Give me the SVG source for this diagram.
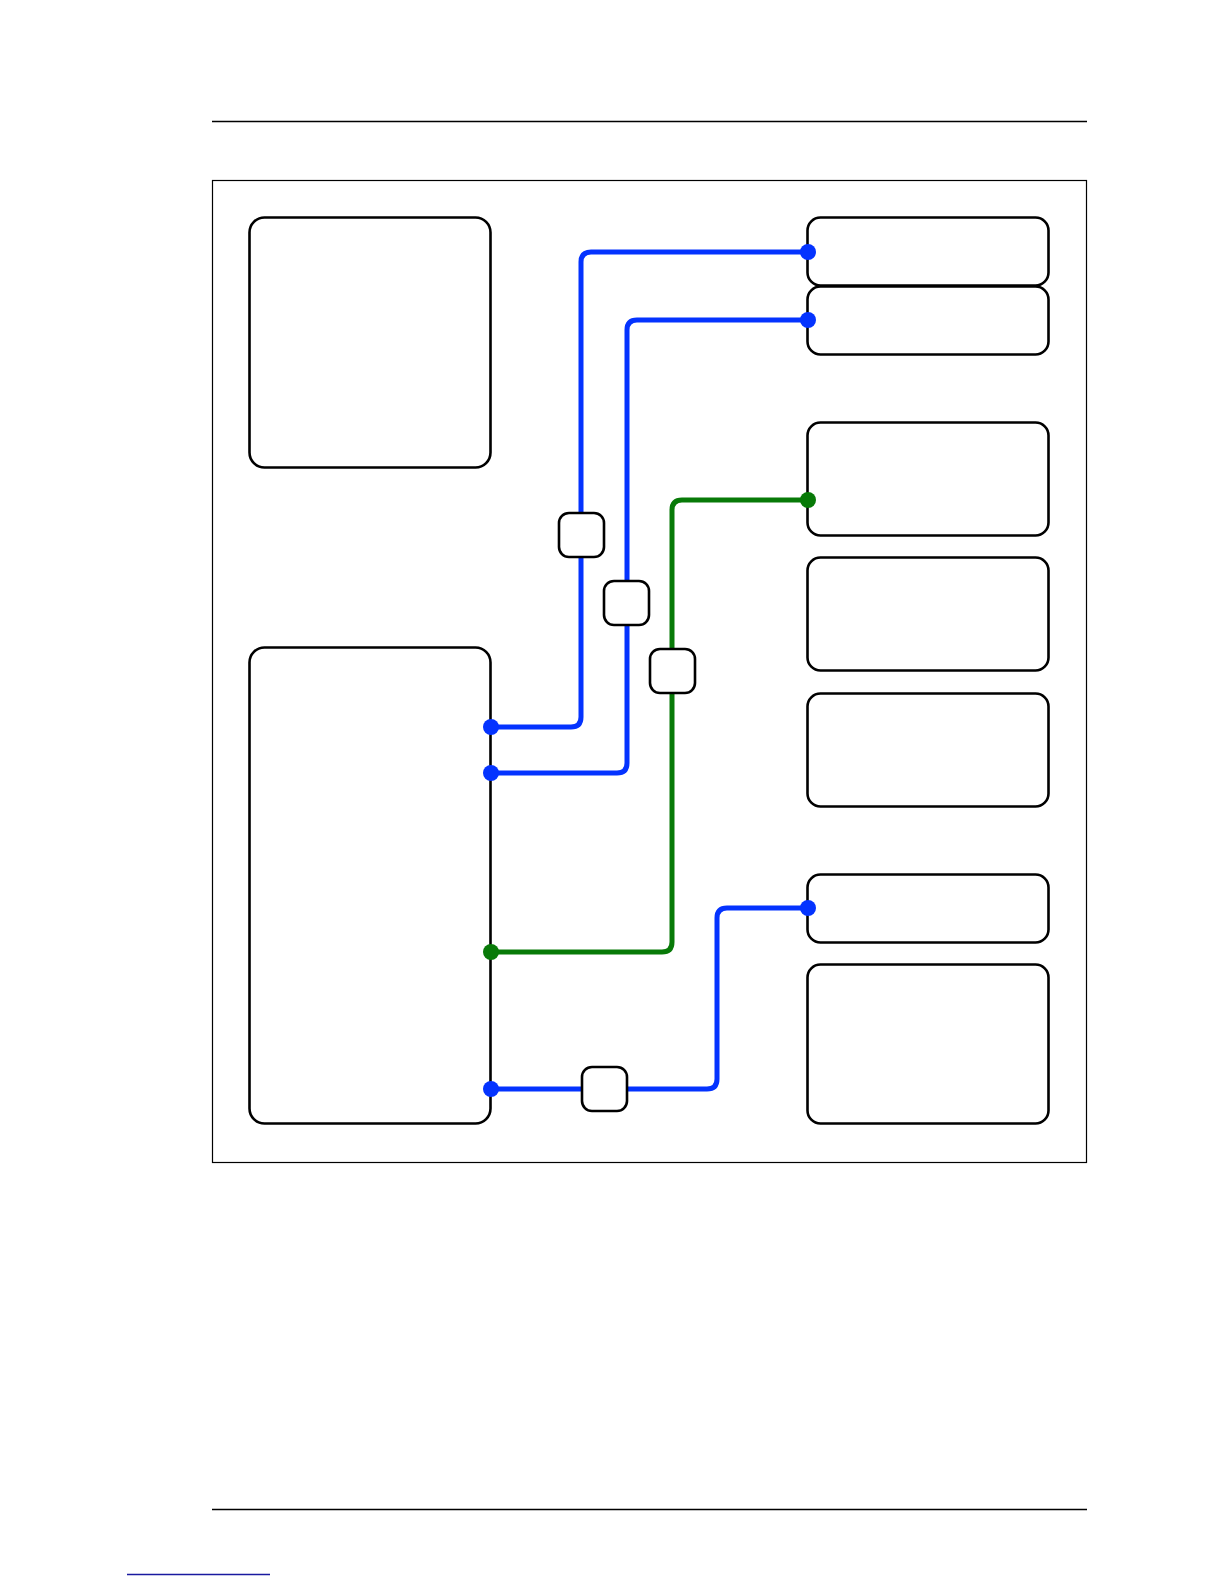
<svg xmlns="http://www.w3.org/2000/svg" width="1224" height="1584" viewBox="0 0 1224 1584">
<style>
.box{fill:#fff;stroke:#000;stroke-width:2.6}
.sm{fill:#fff;stroke:#000;stroke-width:2.6}
.blue{fill:none;stroke:#0433ff;stroke-width:5;stroke-linejoin:round}
.green{fill:none;stroke:#087a08;stroke-width:5;stroke-linejoin:round}
.dotb{fill:#0433ff}
.dotg{fill:#087a08}
</style>
<rect width="1224" height="1584" fill="#fff"/>
<line x1="212" y1="121.5" x2="1087" y2="121.5" stroke="#000" stroke-width="1.5"/>
<line x1="212" y1="1509.5" x2="1087" y2="1509.5" stroke="#000" stroke-width="1.5"/>
<line x1="127" y1="1574.5" x2="270" y2="1574.5" stroke="#1a1aa0" stroke-width="1.5"/>
<rect x="212.5" y="180.5" width="874" height="982" fill="none" stroke="#000" stroke-width="1.2"/>
<g id="left-top"><rect class="box" x="249.5" y="217.5" width="241" height="250" rx="15"/></g>
<g id="left-bottom"><rect class="box" x="249.5" y="647.5" width="241" height="476" rx="15"/></g>
<g id="r1"><rect class="box" x="807.5" y="217.5" width="241" height="68" rx="13"/></g>
<g id="r2"><rect class="box" x="807.5" y="286.5" width="241" height="68" rx="13"/></g>
<g id="r3"><rect class="box" x="807.5" y="422.5" width="241" height="113" rx="13"/></g>
<g id="r4"><rect class="box" x="807.5" y="557.5" width="241" height="113" rx="13"/></g>
<g id="r5"><rect class="box" x="807.5" y="693.5" width="241" height="113" rx="13"/></g>
<g id="r6"><rect class="box" x="807.5" y="874.5" width="241" height="68" rx="13"/></g>
<g id="r7"><rect class="box" x="807.5" y="964.5" width="241" height="159" rx="13"/></g>
<g id="connectors">
<path class="blue" d="M491 727 H571 Q581 727 581 717 V262 Q581 252 591 252 H808"/>
<path class="blue" d="M491 773 H617 Q627 773 627 763 V330 Q627 320 637 320 H808"/>
<path class="green" d="M491 952 H662 Q672 952 672 942 V510 Q672 500 682 500 H808"/>
<path class="blue" d="M491 1089 H707 Q717 1089 717 1079 V918 Q717 908 727 908 H808"/>
<circle class="dotb" cx="491" cy="727" r="8"/>
<circle class="dotb" cx="491" cy="773" r="8"/>
<circle class="dotg" cx="491" cy="952" r="8"/>
<circle class="dotb" cx="491" cy="1089" r="8"/>
<circle class="dotb" cx="808" cy="252" r="8"/>
<circle class="dotb" cx="808" cy="320" r="8"/>
<circle class="dotg" cx="808" cy="500" r="8"/>
<circle class="dotb" cx="808" cy="908" r="8"/>
</g>
<g id="s1"><rect class="sm" x="559" y="513" width="45" height="44" rx="10"/></g>
<g id="s2"><rect class="sm" x="604" y="581" width="45" height="44" rx="10"/></g>
<g id="s3"><rect class="sm" x="650" y="649" width="45" height="44" rx="10"/></g>
<g id="s4"><rect class="sm" x="582" y="1067" width="45" height="44" rx="10"/></g>
</svg>
